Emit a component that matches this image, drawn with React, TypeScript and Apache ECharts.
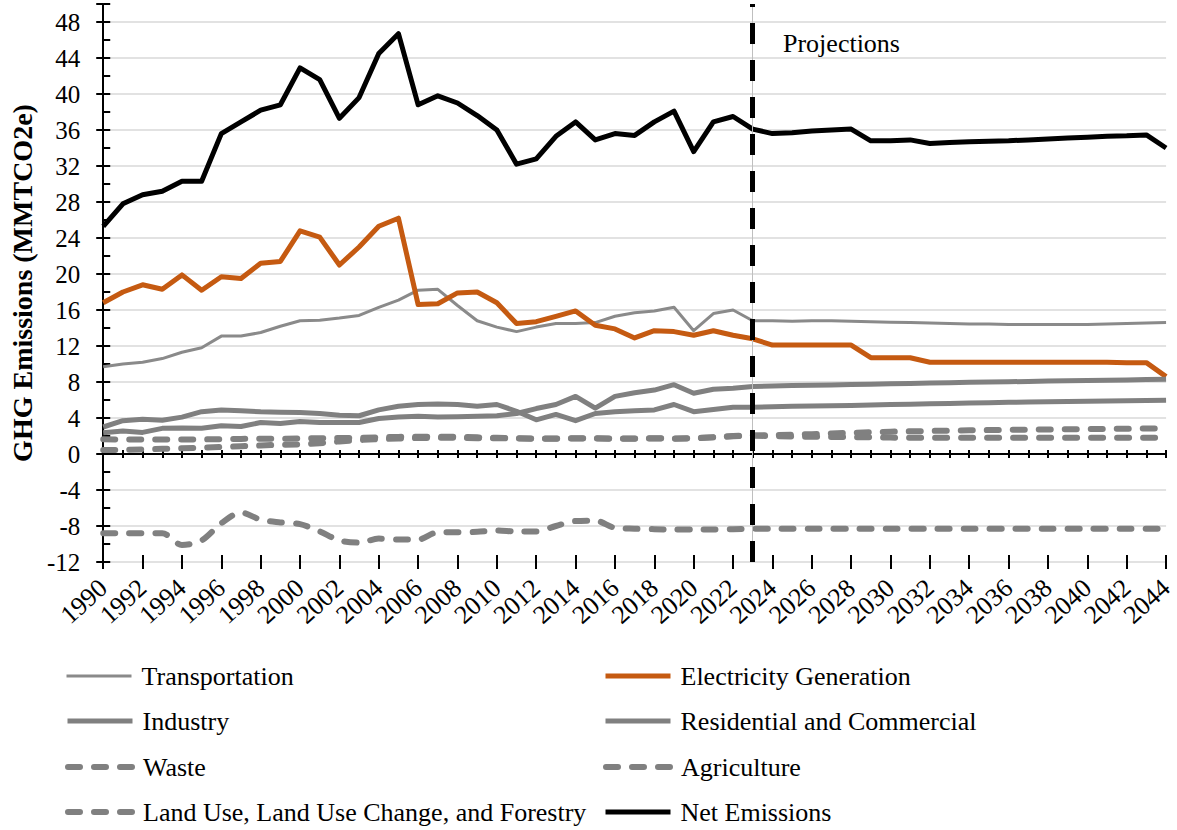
import React, { useEffect, useRef } from "react";
import * as echarts from "echarts";

const years = [
  "1990","1991","1992","1993","1994","1995","1996","1997","1998","1999",
  "2000","2001","2002","2003","2004","2005","2006","2007","2008","2009",
  "2010","2011","2012","2013","2014","2015","2016","2017","2018","2019",
  "2020","2021","2022","2023","2024","2025","2026","2027","2028","2029",
  "2030","2031","2032","2033","2034","2035","2036","2037","2038","2039",
  "2040","2041","2042","2043","2044",
];

const transportation = [
  9.7, 10.0, 10.2, 10.6, 11.3, 11.8, 13.1, 13.1, 13.5, 14.2,
  14.8, 14.85, 15.1, 15.4, 16.3, 17.1, 18.2, 18.3, 16.5, 14.8,
  14.1, 13.6, 14.1, 14.5, 14.5, 14.6, 15.3, 15.7, 15.9, 16.3,
  13.7, 15.6, 16.0, 14.8, 14.8, 14.75, 14.8, 14.8, 14.75, 14.7,
  14.65, 14.6, 14.55, 14.5, 14.45, 14.45, 14.4, 14.4, 14.4, 14.4,
  14.4, 14.45, 14.5, 14.55, 14.6,
];

const electricity = [
  16.8, 18.0, 18.8, 18.3, 19.9, 18.2, 19.7, 19.5, 21.2, 21.4,
  24.8, 24.1, 21.0, 23.0, 25.3, 26.2, 16.6, 16.7, 17.9, 18.0,
  16.8, 14.5, 14.7, 15.3, 15.9, 14.3, 13.9, 12.9, 13.7, 13.6,
  13.2, 13.7, 13.2, 12.8, 12.1, 12.1, 12.1, 12.1, 12.1, 10.7,
  10.7, 10.7, 10.2, 10.2, 10.2, 10.2, 10.2, 10.2, 10.2, 10.2,
  10.2, 10.2, 10.15, 10.15, 8.6,
];

const industry = [
  3.0, 3.7, 3.85, 3.75, 4.1, 4.7, 4.9, 4.8, 4.7, 4.65,
  4.6, 4.5, 4.3, 4.25, 4.9, 5.3, 5.5, 5.55, 5.5, 5.3,
  5.5, 4.75, 3.8, 4.4, 3.7, 4.5, 4.7, 4.8, 4.9, 5.5,
  4.7, 4.95, 5.2, 5.2, 5.25, 5.3, 5.33, 5.37, 5.4, 5.45,
  5.5, 5.54, 5.58, 5.62, 5.66, 5.7, 5.74, 5.77, 5.8, 5.83,
  5.86, 5.89, 5.92, 5.95, 5.98,
];

const residential = [
  2.35, 2.55, 2.4, 2.85, 2.9, 2.85, 3.15, 3.05, 3.5, 3.4,
  3.6, 3.5, 3.5, 3.5, 3.95, 4.1, 4.2, 4.1, 4.15, 4.2,
  4.25, 4.5, 5.05, 5.5, 6.4, 5.1, 6.4, 6.8, 7.1, 7.7,
  6.75, 7.2, 7.3, 7.5, 7.55, 7.6, 7.65, 7.68, 7.72, 7.76,
  7.8, 7.84, 7.88, 7.92, 7.96, 8.0, 8.03, 8.06, 8.1, 8.13,
  8.16, 8.2, 8.23, 8.27, 8.3,
];

const waste = [
  0.44, 0.46, 0.5, 0.57, 0.63, 0.7, 0.78, 0.86, 0.95, 1.02,
  1.06, 1.2, 1.4, 1.55, 1.65, 1.72, 1.78, 1.8, 1.8, 1.76,
  1.75, 1.72, 1.7, 1.7, 1.72, 1.72, 1.7, 1.7, 1.72, 1.7,
  1.72, 1.85, 2.0, 2.05, 2.1, 2.15, 2.2, 2.28, 2.35, 2.42,
  2.48, 2.52, 2.56, 2.6, 2.63, 2.66, 2.69, 2.71, 2.73, 2.75,
  2.77, 2.79, 2.81, 2.83, 2.85,
];

const agriculture = [
  1.63, 1.62, 1.62, 1.6, 1.6, 1.62, 1.65, 1.68, 1.7, 1.7,
  1.72, 1.75, 1.78, 1.8, 1.85, 1.9, 1.93, 1.93, 1.9, 1.85,
  1.8, 1.76, 1.72, 1.72, 1.75, 1.75, 1.73, 1.72, 1.75, 1.73,
  1.76, 1.85, 1.98, 2.05, 1.98, 1.95, 1.92, 1.9, 1.88, 1.85,
  1.82, 1.8, 1.8, 1.8, 1.8, 1.8, 1.8, 1.8, 1.8, 1.8,
  1.8, 1.8, 1.8, 1.8, 1.8,
];

const lulucf = [
  -8.8, -8.8, -8.8, -8.8, -10.1, -9.6, -7.7, -6.5, -7.3, -7.6,
  -7.8, -8.6, -9.6, -9.85, -9.4, -9.5, -9.5, -8.7, -8.7, -8.65,
  -8.5, -8.6, -8.6, -8.0, -7.45, -7.4, -8.2, -8.3, -8.35, -8.4,
  -8.4, -8.4, -8.35, -8.3, -8.3, -8.3, -8.3, -8.3, -8.3, -8.3,
  -8.3, -8.3, -8.3, -8.3, -8.3, -8.3, -8.3, -8.3, -8.3, -8.3,
  -8.3, -8.3, -8.3, -8.3, -8.3,
];

const netEmissions = [
  25.3, 27.8, 28.8, 29.2, 30.3, 30.3, 35.6, 36.9, 38.2, 38.8,
  42.9, 41.6, 37.3, 39.6, 44.5, 46.7, 38.8, 39.8, 39.0, 37.6,
  36.0, 32.2, 32.8, 35.3, 36.9, 34.9, 35.6, 35.4, 36.9, 38.1,
  33.6, 36.9, 37.5, 36.1, 35.6, 35.7, 35.9, 36.0, 36.1, 34.8,
  34.8, 34.9, 34.5, 34.6, 34.7, 34.75, 34.8, 34.9, 35.0, 35.1,
  35.2, 35.3, 35.35, 35.45, 34.0,
];

const projectionStart = "2023";
const FONT = "Liberation Serif";
const GRAY = "#808080";
const ORANGE = "#C55A11";
const DASH = [12, 14];

const seriesDefs = [
  { name: "Transportation", data: transportation, color: "#8a8a8a", width: 3, dashed: false, smooth: false },
  { name: "Electricity Generation", data: electricity, color: ORANGE, width: 5, dashed: false, smooth: false },
  { name: "Industry", data: industry, color: GRAY, width: 5, dashed: false, smooth: false },
  { name: "Residential and Commercial", data: residential, color: GRAY, width: 5, dashed: false, smooth: false },
  { name: "Waste", data: waste, color: GRAY, width: 6, dashed: true, smooth: false },
  { name: "Agriculture", data: agriculture, color: GRAY, width: 6, dashed: true, smooth: false },
  { name: "Land Use, Land Use Change, and Forestry", data: lulucf, color: GRAY, width: 6, dashed: true, smooth: true },
  { name: "Net Emissions", data: netEmissions, color: "#000000", width: 5, dashed: false, smooth: false },
];

// legend layout: [column, row]
const legendPlacement: Record<string, [number, number]> = {
  "Transportation": [0, 0],
  "Electricity Generation": [1, 0],
  "Industry": [0, 1],
  "Residential and Commercial": [1, 1],
  "Waste": [0, 2],
  "Agriculture": [1, 2],
  "Land Use, Land Use Change, and Forestry": [0, 3],
  "Net Emissions": [1, 3],
};
const legendColX = [65, 603];
const legendRowY = [677, 722, 768, 813];

export default function App() {
  const ref = useRef<HTMLDivElement>(null);

  useEffect(() => {
    if (!ref.current) return;
    const chart = echarts.init(ref.current, null, { renderer: "svg" });

    const baseCat = {
      type: "category" as const,
      data: years,
      boundaryGap: false,
      position: "bottom" as const,
      splitLine: { show: false },
    };

    const tickAxis = (inside: boolean, len: number, interval: number, showLine: boolean) => ({
      ...baseCat,
      axisLine: { show: showLine, onZero: true, lineStyle: { color: "#000", width: 2 } },
      axisTick: { show: true, inside, length: len, interval, lineStyle: { color: "#000", width: 2 } },
      axisLabel: { show: false },
    });

    const series: any[] = seriesDefs.map((s) => ({
      name: s.name,
      type: "line",
      data: s.data,
      xAxisIndex: 0,
      yAxisIndex: 0,
      symbol: "none",
      smooth: s.smooth ? 0.3 : false,
      lineStyle: {
        color: s.color,
        width: s.width,
        type: s.dashed ? DASH : "solid",
        cap: s.dashed ? "round" : "butt",
        join: "round",
      },
      itemStyle: { color: s.color },
      emphasis: { disabled: true },
    }));

    series[0].markLine = {
      silent: true,
      symbol: "none",
      label: { show: false },
      lineStyle: { color: "#bfbfbf", width: 1, type: "solid" },
      data: [{ xAxis: projectionStart }],
    };
    series[7].markLine = {
      silent: true,
      symbol: "none",
      label: { show: false },
      lineStyle: { color: "#000", width: 5, type: [21, 16] },
      data: [{ xAxis: projectionStart }],
    };

    const legends = seriesDefs.map((s) => {
      const [c, r] = legendPlacement[s.name];
      return {
        show: true,
        data: [s.name],
        left: legendColX[c],
        top: legendRowY[r] - 14,
        padding: 0,
        itemWidth: 65,
        itemHeight: 14,
        selectedMode: false,
        itemStyle: { opacity: 0, borderWidth: 0 },
        lineStyle: { width: s.width },
        textStyle: {
          fontFamily: FONT,
          fontSize: 26,
          color: "#000",
          padding: [0, 0, 0, 5],
        },
      };
    });

    chart.setOption({
      animation: false,
      backgroundColor: "#ffffff",
      grid: { left: 101, right: 8, top: 4, bottom: 268 },
      legend: legends,
      xAxis: [
        {
          ...baseCat,
          axisLine: { show: false, onZero: false },
          axisTick: { show: false },
          axisLabel: {
            interval: 1,
            rotate: 42,
            margin: 22,
            fontFamily: FONT,
            fontSize: 26,
            color: "#000",
          },
        },
        tickAxis(true, 4, 0, true),
        tickAxis(false, 4, 0, false),
        tickAxis(true, 7, 1, false),
        tickAxis(false, 7, 1, false),
      ],
      yAxis: [
        {
          type: "value",
          min: -12,
          max: 50,
          interval: 4,
          position: "left",
          name: "GHG Emissions (MMTCO2e)",
          nameLocation: "middle",
          nameGap: 64,
          nameTextStyle: { fontFamily: FONT, fontSize: 28, fontWeight: "bold", color: "#000" },
          axisLine: { show: true, onZero: false, lineStyle: { color: "#000", width: 2 } },
          axisTick: { show: true, inside: true, length: 7, lineStyle: { color: "#000", width: 2 } },
          minorTick: { show: true, splitNumber: 2, length: 7, lineStyle: { color: "#000", width: 2 } },
          axisLabel: { fontFamily: FONT, fontSize: 25, color: "#000", margin: 23, showMaxLabel: false },
          splitLine: { show: true, showMaxLine: false, lineStyle: { color: "#d9d9d9", width: 1.5 } },
        },
        {
          type: "value",
          min: -12,
          max: 50,
          interval: 4,
          position: "left",
          axisLine: { show: false, onZero: false },
          axisTick: { show: true, inside: false, length: 7, lineStyle: { color: "#000", width: 2 } },
          axisLabel: { show: false },
          splitLine: { show: false },
        },
      ],
      graphic: [
        {
          type: "text",
          left: 783,
          top: 30,
          style: { text: "Projections", fontFamily: FONT, fontSize: 26, fill: "#000" },
        },
      ],
      series,
    });

    return () => chart.dispose();
  }, []);

  return (
    <div
      ref={ref}
      style={{ position: "fixed", left: 0, top: 0, width: 1177, height: 830, background: "#fff" }}
    />
  );
}
